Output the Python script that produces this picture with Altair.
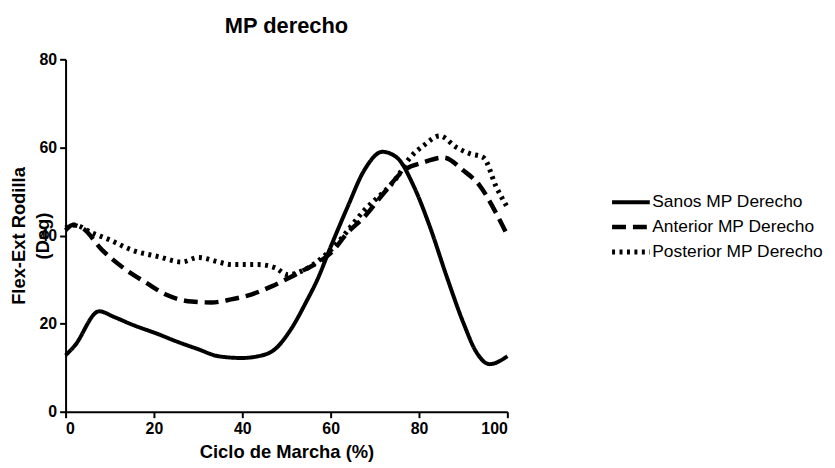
import altair as alt
import pandas as pd

series_names = ["Sanos MP Derecho", "Anterior MP Derecho", "Posterior MP Derecho"]

sanos_x = [0, 2, 7.6, 11, 15, 21, 25, 30, 34.6, 39.8, 43.6, 47.4, 51, 54.4, 57, 60,
           63.8, 67.6, 71.7, 75, 78.9, 82.5, 86.3, 90, 93, 96, 100]
sanos_y = [12.8, 14.9, 22.8, 21.5, 19.8, 17.6, 16.0, 14.2, 12.6, 12.2, 12.6, 14.2, 18.7,
           24.8, 30.0, 37.4, 46.4, 54.8, 59.0, 57.7, 51.0, 41.9, 30.6, 20.3, 13.5, 10.8, 12.6]

anterior_x = [0, 1.6, 3.8, 8.3, 13.7, 18.2, 22.7, 28.5, 33, 37.5, 42, 46.5, 51, 54, 57,
              60, 63.8, 67.6, 72, 76.6, 81, 85.6, 90, 93.7, 97.5, 100]
anterior_y = [41.2, 42.4, 41.7, 36.7, 32.2, 29.3, 26.6, 25.0, 24.8, 25.5, 26.6, 28.4, 30.6,
              32.2, 33.8, 36.0, 40.6, 44.2, 49.6, 54.8, 56.6, 57.7, 54.8, 51.4, 45.0, 40.1]

posterior_x = [0, 2, 6, 10, 15, 21, 26.3, 30, 34.6, 37.5, 43.6, 47.4, 50.3, 54, 60, 67.6,
               75, 78, 81, 84.7, 88.5, 91.5, 94.6, 97.5, 100]
posterior_y = [41.7, 42.4, 40.6, 39.0, 36.7, 35.2, 34.0, 35.0, 34.0, 33.4, 33.4, 32.7, 31.1,
               32.2, 36.7, 45.7, 53.2, 57.7, 60.4, 62.6, 60.0, 58.6, 57.7, 51.0, 46.4]

x_ticks = [0, 20, 40, 60, 80, 100]
y_ticks = [0, 20, 40, 60, 80]

rows = []
for name, xs, ys in [(series_names[0], sanos_x, sanos_y),
                     (series_names[1], anterior_x, anterior_y),
                     (series_names[2], posterior_x, posterior_y)]:
    for i, (a, b) in enumerate(zip(xs, ys)):
        rows.append({"serie": name, "ciclo": a, "flex": b, "orden": i})
df = pd.DataFrame(rows)

FONT = "Liberation Sans"

legend = alt.Legend(title=None, orient="none", legendX=548, legendY=131.5,
                    clipHeight=25)

chart = alt.Chart(df).mark_line(interpolate="monotone", color="black").encode(
    x=alt.X("ciclo:Q", scale=alt.Scale(domain=[0, 100], nice=False),
            axis=alt.Axis(values=x_ticks, title="Ciclo de Marcha (%)", titlePadding=6)),
    y=alt.Y("flex:Q", scale=alt.Scale(domain=[0, 80], nice=False),
            axis=alt.Axis(values=y_ticks, title=["Flex-Ext Rodilla", "(Deg)"],
                          titleAngle=270, titleX=-47, titleY=177.5,
                          titleAlign="center", titleBaseline="middle",
                          titleLineHeight=24)),
    strokeDash=alt.StrokeDash("serie:N",
                              scale=alt.Scale(domain=series_names,
                                              range=[[1, 0], [14, 7], [3, 4.5]]),
                              legend=legend),
    strokeWidth=alt.StrokeWidth("serie:N",
                                scale=alt.Scale(domain=series_names, range=[4, 5, 1.5]),
                                legend=legend),
    order="orden:Q",
).properties(
    width=445, height=355,
    title=alt.Title("MP derecho", font=FONT, fontSize=22, fontWeight="bold",
                    color="black", anchor="middle", baseline="alphabetic", offset=-3),
    padding={"left": 58, "top": 50, "right": 322, "bottom": 55},
    autosize=alt.AutoSizeParams(type="none"),
).configure_view(stroke=None).configure_axis(
    grid=False, domainColor="black", domainWidth=2, tickColor="black", tickWidth=2,
    tickSize=6, labelFont=FONT, labelFontSize=16, labelFontWeight="bold",
    labelColor="black", labelPadding=3, titleFont=FONT, titleFontSize=18.5,
    titleFontWeight="bold", titleColor="black",
).configure_legend(
    labelFont=FONT, labelFontSize=17.5, labelColor="black", symbolType="stroke",
    symbolSize=1444, symbolStrokeColor="black", labelOffset=0, rowPadding=0,
    labelLimit=400,
)

chart.save("out.html", embed_options={"renderer": "svg", "actions": False})
